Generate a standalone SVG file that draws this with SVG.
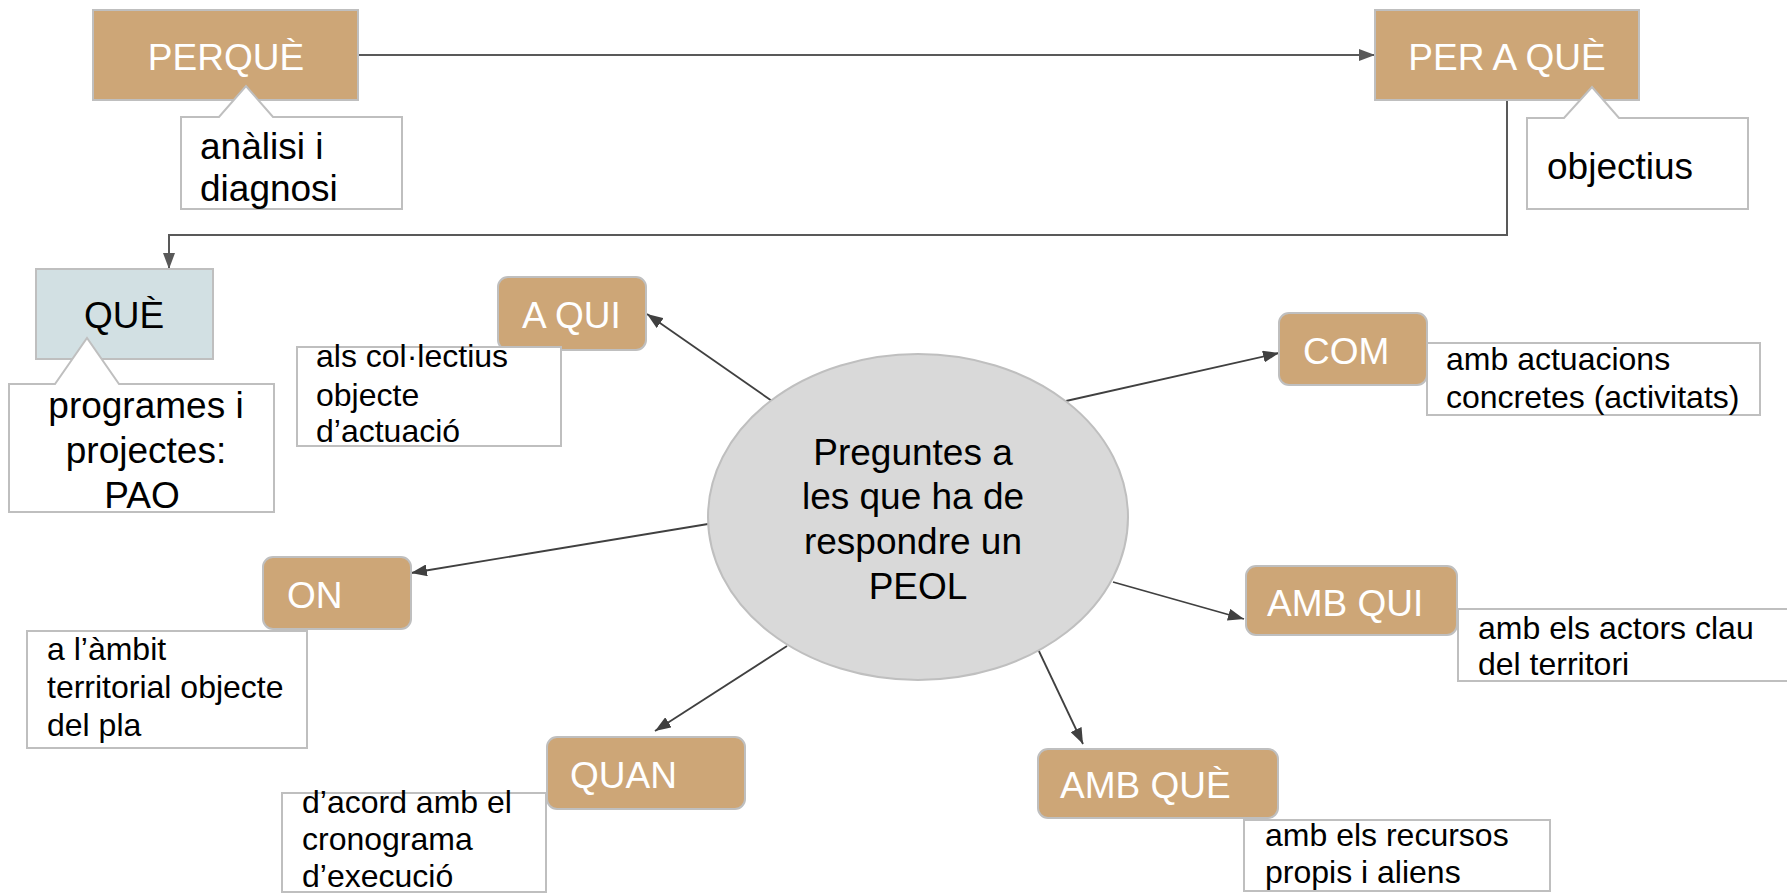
<svg xmlns="http://www.w3.org/2000/svg" width="1787" height="893" viewBox="0 0 1787 893">
<defs>
<style>
.tan{fill:#CDA677;stroke:#BFBFBF;stroke-width:2}
.blue{fill:#D2E0E3;stroke:#BFBFBF;stroke-width:2}
.call{fill:#FFFFFF;stroke:#BFBFBF;stroke-width:2}
.lbl{font-family:"Liberation Sans",Arial,sans-serif;font-size:37px;fill:#FFFFFF}
.blk{font-family:"Liberation Sans",Arial,sans-serif;font-size:37px;fill:#000000}
.sm{font-family:"Liberation Sans",Arial,sans-serif;font-size:32px;fill:#000000}
.c1{fill:none;stroke:#595959;stroke-width:2}
.c2{fill:none;stroke:#404040;stroke-width:1.8}
</style>
<marker id="ag" viewBox="0 0 16 12" refX="16" refY="6" markerWidth="16" markerHeight="12" orient="auto" markerUnits="userSpaceOnUse"><path d="M0,0 L16,6 L0,12 Z" fill="#595959"/></marker>
<marker id="ad" viewBox="0 0 16 12" refX="16" refY="6" markerWidth="16" markerHeight="12" orient="auto" markerUnits="userSpaceOnUse"><path d="M0,0 L16,6 L0,12 Z" fill="#404040"/></marker>
</defs>
<rect width="1787" height="893" fill="#FFFFFF"/>
<g id="connectors">
<path class="c1" d="M358,55 H1375" marker-end="url(#ag)"/>
<path class="c1" d="M1507,100 V235 H169 V269" marker-end="url(#ag)"/>
<path class="c2" d="M772,401 L647,314" marker-end="url(#ad)"/>
<path class="c2" d="M1066,401 L1279,353" marker-end="url(#ad)"/>
<path class="c2" d="M708,524 L411,573" marker-end="url(#ad)"/>
<path class="c2" d="M1113,582 L1244,619" marker-end="url(#ad)"/>
<path class="c2" d="M787,646 L655,731" marker-end="url(#ad)"/>
<path class="c2" d="M1037,647 L1083,744" marker-end="url(#ad)"/>
</g>
<g id="center">
<ellipse cx="918" cy="517" rx="210" ry="163" fill="#D9D9D9" stroke="#BFBFBF" stroke-width="2"/>
<text class="blk" x="913" y="465" text-anchor="middle">Preguntes a</text>
<text class="blk" x="913" y="509" text-anchor="middle">les que ha de</text>
<text class="blk" x="913" y="554" text-anchor="middle">respondre un</text>
<text class="blk" x="918" y="599" text-anchor="middle">PEOL</text>
</g>
<g id="perque">
<rect class="tan" x="93" y="10" width="265" height="90"/>
<text class="lbl" x="226" y="70" text-anchor="middle">PERQUÈ</text>
<path class="call" d="M181,117 L219,117 L246,86 L273,117 L402,117 L402,209 L181,209 Z"/>
<text class="blk" x="200" y="159">anàlisi i</text>
<text class="blk" x="200" y="201">diagnosi</text>
</g>
<g id="per-a-que">
<rect class="tan" x="1375" y="10" width="264" height="90"/>
<text class="lbl" x="1507" y="70" text-anchor="middle">PER A QUÈ</text>
<path class="call" d="M1527,118 L1564,118 L1592,87 L1619,118 L1748,118 L1748,209 L1527,209 Z"/>
<text class="blk" x="1547" y="179">objectius</text>
</g>
<g id="que">
<rect class="blue" x="36" y="269" width="177" height="90"/>
<text class="blk" x="124" y="328" text-anchor="middle">QUÈ</text>
<path class="call" d="M9,384 L55,384 L87,338 L119,384 L274,384 L274,512 L9,512 Z"/>
<text class="blk" x="146" y="418" text-anchor="middle">programes i</text>
<text class="blk" x="146" y="463" text-anchor="middle">projectes:</text>
<text class="blk" x="142" y="508" text-anchor="middle">PAO</text>
</g>
<g id="a-qui">
<rect class="tan" x="498" y="277" width="148" height="73" rx="10"/>
<text class="lbl" x="522" y="328">A QUI</text>
<rect class="call" x="297" y="347" width="264" height="99"/>
<text class="sm" x="316" y="367">als col·lectius</text>
<text class="sm" x="316" y="406">objecte</text>
<text class="sm" x="316" y="442">d’actuació</text>
</g>
<g id="com">
<rect class="tan" x="1279" y="313" width="148" height="72" rx="10"/>
<text class="lbl" x="1303" y="364">COM</text>
<rect class="call" x="1427" y="343" width="333" height="72"/>
<text class="sm" x="1446" y="370">amb actuacions</text>
<text class="sm" x="1446" y="408">concretes (activitats)</text>
</g>
<g id="on">
<rect class="tan" x="263" y="557" width="148" height="72" rx="10"/>
<text class="lbl" x="287" y="608">ON</text>
<rect class="call" x="27" y="631" width="280" height="117"/>
<text class="sm" x="47" y="660">a l’àmbit</text>
<text class="sm" x="47" y="698">territorial objecte</text>
<text class="sm" x="47" y="736">del pla</text>
</g>
<g id="amb-qui">
<rect class="tan" x="1246" y="566" width="211" height="69" rx="10"/>
<text class="lbl" x="1267" y="616">AMB QUI</text>
<rect class="call" x="1458" y="609" width="340" height="72"/>
<text class="sm" x="1478" y="639">amb els actors clau</text>
<text class="sm" x="1478" y="675">del territori</text>
</g>
<g id="quan">
<rect class="tan" x="547" y="737" width="198" height="72" rx="10"/>
<text class="lbl" x="570" y="788">QUAN</text>
<rect class="call" x="282" y="793" width="264" height="99"/>
<text class="sm" x="302" y="813">d’acord amb el</text>
<text class="sm" x="302" y="850">cronograma</text>
<text class="sm" x="302" y="887">d’execució</text>
</g>
<g id="amb-que">
<rect class="tan" x="1038" y="749" width="240" height="69" rx="10"/>
<text class="lbl" x="1060" y="798">AMB QUÈ</text>
<rect class="call" x="1244" y="820" width="306" height="71"/>
<text class="sm" x="1265" y="846">amb els recursos</text>
<text class="sm" x="1265" y="883">propis i aliens</text>
</g>
</svg>
